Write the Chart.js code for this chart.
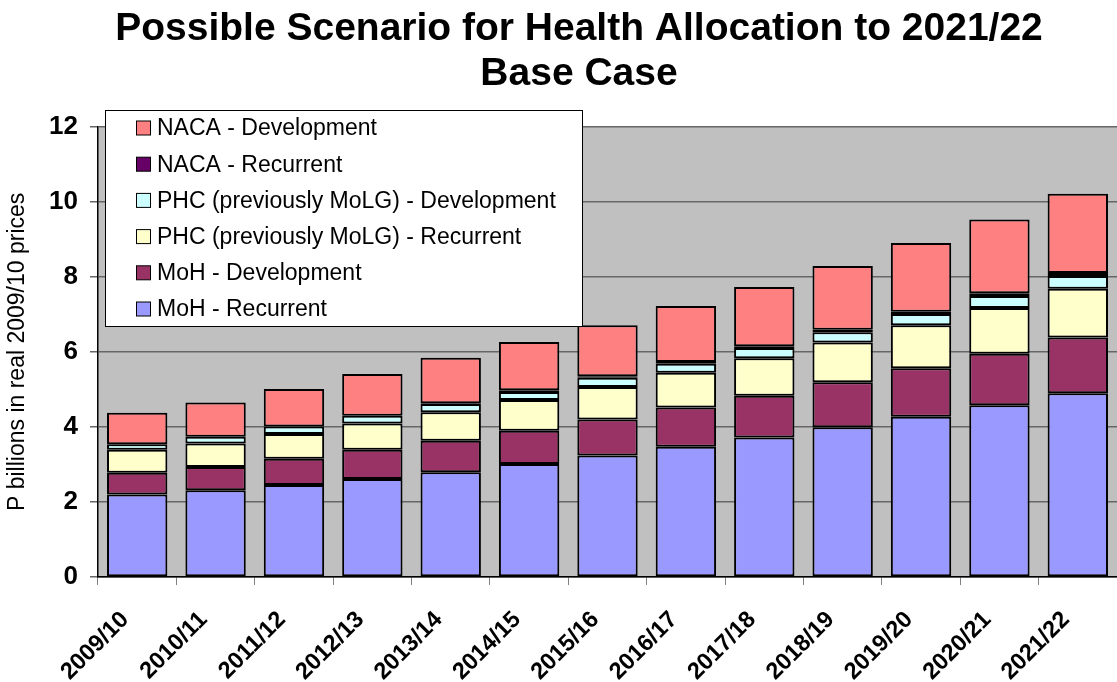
<!DOCTYPE html>
<html>
<head>
<meta charset="utf-8">
<script src="https://cdn.jsdelivr.net/npm/chart.js@4/dist/chart.umd.min.js"></script>
<style>
html,body{margin:0;padding:0;background:#fff;}
#wrap{width:1117px;height:682px;}
</style>
</head>
<body>
<div id="wrap"><canvas id="c" width="1117" height="682"></canvas></div>
<script>
const categories = ["2009/10","2010/11","2011/12","2012/13","2013/14","2014/15","2015/16","2016/17","2017/18","2018/19","2019/20","2020/21","2021/22"];
const mohRecurrent   = [2.20,2.31,2.45,2.61,2.79,3.01,3.24,3.47,3.72,3.99,4.27,4.58,4.90];
const mohDevelopment = [0.58,0.62,0.70,0.78,0.84,0.89,0.96,1.05,1.11,1.20,1.29,1.37,1.48];
const phcRecurrent   = [0.61,0.63,0.66,0.70,0.76,0.82,0.86,0.92,1.00,1.06,1.15,1.22,1.30];
const phcDevelopment = [0.15,0.18,0.20,0.21,0.22,0.21,0.25,0.24,0.27,0.27,0.30,0.32,0.34];
const nacaRecurrent  = [0.00,0.00,0.00,0.00,0.02,0.05,0.04,0.05,0.05,0.07,0.06,0.07,0.08];
const nacaDevelopment= [0.84,0.91,1.00,1.11,1.21,1.28,1.36,1.49,1.58,1.70,1.83,1.97,2.11];
const yTicks = [0,2,4,6,8,10,12];
const seriesNames = ["MoH - Recurrent","MoH - Development","PHC (previously MoLG) - Recurrent","PHC (previously MoLG) - Development","NACA - Recurrent","NACA - Development"];
const seriesColors = ["#9999FF","#993366","#FFFFCC","#CCFFFF","#660066","#FF8080"];
const seriesData = [mohRecurrent,mohDevelopment,phcRecurrent,phcDevelopment,nacaRecurrent,nacaDevelopment];

const FONT = "'Liberation Sans', Arial, sans-serif";

const plotBg = {
  id:'plotBg',
  afterLayout(chart){
    const tb = chart.titleBlock;
    if (tb) { tb.left += 41; }
  },
  beforeDraw(chart){
    const {ctx, chartArea:a} = chart;
    ctx.save();
    ctx.fillStyle = '#C0C0C0';
    ctx.fillRect(a.left, a.top, a.right-a.left, a.bottom-a.top);
    ctx.restore();
  }
};

const boxLegend = {
  id:'boxLegend',
  afterDraw(chart){
    const ctx = chart.ctx;
    const x0=105, y0=110, w=477, h=216;
    ctx.save();
    ctx.fillStyle='#fff';
    ctx.fillRect(x0,y0,w,h);
    ctx.strokeStyle='#000';
    ctx.lineWidth=1;
    ctx.strokeRect(x0+0.5,y0+0.5,w,h);
    ctx.font = "23px " + FONT;
    ctx.textBaseline='middle';
    ctx.textAlign='left';
    const ds = chart.data.datasets;
    for(let i=0;i<ds.length;i++){
      const d = ds[ds.length-1-i];
      const cy = 128 + i*36.2;
      ctx.fillStyle = d.backgroundColor;
      ctx.fillRect(136.5, cy-7, 14, 14);
      ctx.strokeStyle='#000';
      ctx.lineWidth=1;
      ctx.strokeRect(136.5, cy-7, 14, 14);
      ctx.fillStyle='#000';
      ctx.fillText(d.label, 157, cy+1);
    }
    ctx.restore();
  }
};

const datasets = seriesNames.map((n,i)=>({
  label:n,
  data:seriesData[i],
  backgroundColor:seriesColors[i],
  borderColor:'#000',
  borderWidth:2,
  borderSkipped:false,
  barPercentage:0.77,
  categoryPercentage:1.0
}));

new Chart(document.getElementById('c'),{
  type:'bar',
  data:{labels:categories, datasets},
  plugins:[plotBg, boxLegend],
  options:{
    responsive:false,
    animation:false,
    devicePixelRatio:1,
    layout:{padding:{left:0,right:0,top:0,bottom:0}},
    plugins:{
      legend:{display:false},
      tooltip:{enabled:false},
      title:{
        display:true,
        text:["Possible Scenario for Health Allocation to 2021/22","Base Case"],
        color:'#000',
        font:{family:FONT, size:39, weight:'bold', lineHeight:1.15},
        padding:{top:7,bottom:30}
      }
    },
    scales:{
      x:{
        stacked:true,
        border:{display:true,color:'#000',width:1.5},
        grid:{display:true, drawOnChartArea:false, drawTicks:true, tickLength:8, color:'#808080', offset:true},
        ticks:{color:'#000', font:{family:FONT,size:23.5,weight:'bold'}, maxRotation:45, minRotation:45, autoSkip:false, labelOffset:-12, padding:21},
        afterFit(s){ s.height = 105; s.paddingLeft=0; s.paddingRight=0; }
      },
      y:{
        stacked:true,
        min:0,max:12,
        afterBuildTicks(s){ s.ticks = yTicks.map(v=>({value:v})); },
        border:{display:true,color:'#000',width:1.5},
        grid:{color:'#666', lineWidth:1.5, drawTicks:true, tickLength:8},
        ticks:{color:'#000', font:{family:FONT,size:26,weight:'bold'}, padding:12},
        title:{display:true, text:'P billions in real 2009/10 prices', color:'#000', font:{family:FONT,size:23}, padding:{top:4,bottom:0}},
        afterFit(s){ s.width = 98; }
      }
    }
  }
});
</script>
</body>
</html>
